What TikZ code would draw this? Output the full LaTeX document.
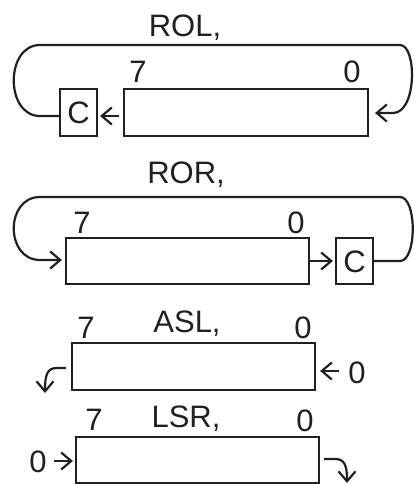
\documentclass[tikz,border=0pt]{standalone}
\usepackage{fontspec}
\setmainfont{Liberation Sans}
\usetikzlibrary{arrows.meta}
\definecolor{ink}{RGB}{35,31,32}
\begin{document}
\begin{tikzpicture}[x=1pt,y=-1pt,
  line width=2.2pt,
  reg/.style={draw=ink, line width=2.2pt, inner sep=0pt, minimum height=47pt},
  lbl/.style={anchor=base, inner sep=0pt, text=ink, font=\fontsize{31}{36}\selectfont},
  arr/.style={draw=ink, line width=2.2pt, -{Straight Barb[length=10pt,width=17pt]}}]
\useasboundingbox (0,0) rectangle (414,484);
% ---------- ROL ----------
\node[lbl] (rolT) at (185,37) {ROL,};
\node[reg, minimum width=37pt] (rolC) at (78.5,112.5) {};
\node[lbl] (rolCt) at (78.5,123.5) {C};
\node[reg, minimum width=244pt] (rolR) at (246,112.5) {};
\node[lbl] (rol7) at (138,83) {7};
\node[lbl] (rol0) at (352,83) {0};
\draw[arr, shorten <=4pt, shorten >=2pt] (rolR.west |- 0,116) -- (rolC.east |- 0,116);
\draw[arr, shorten >=6pt] (rolC.west |- 0,116) -- (40,116) .. controls (5,116) and (5,45) .. (40,45)
  -- (400,45) .. controls (417,45) and (417,113) .. (393,113) -- (rolR.east |- 0,113);
% ---------- ROR ----------
\node[lbl] (rorT) at (186,183) {ROR,};
\node[reg, minimum width=243pt, minimum height=46pt] (rorR) at (187.5,261) {};
\node[reg, minimum width=37pt, minimum height=46pt] (rorC) at (354.5,261) {};
\node[lbl] (rorCt) at (354.5,272) {C};
\node[lbl] (ror7) at (82,233) {7};
\node[lbl] (ror0) at (296,233) {0};
\draw[arr, shorten >=2pt] (rorR.east) -- (rorC.west);
\draw[arr, shorten >=3pt] (rorC.east) -- (400,261) .. controls (417,261) and (417,197) .. (400,197)
  -- (40,197) .. controls (5,197) and (5,260) .. (40,260) -- (rorR.west |- 0,260);
% ---------- ASL ----------
\node[lbl] (aslT) at (187,332) {ASL,};
\node[reg, minimum width=243pt] (aslR) at (193.5,366.5) {};
\node[lbl] (asl7) at (86,338) {7};
\node[lbl] (asl0) at (303,338) {0};
\node[lbl] (aslIn) at (357,383) {0};
\draw[arr, shorten <=8pt, shorten >=4pt] (aslIn.west |- 0,371) -- (aslR.east |- 0,371);
\draw[arr, shorten <=5pt] (aslR.west |- 0,368) -- (57,368) .. controls (47,368) and (45,375) .. (45,393);
% ---------- LSR ----------
\node[lbl] (lsrT) at (186,427) {LSR,};
\node[reg, minimum width=243pt, minimum height=46pt] (lsrR) at (197.5,460) {};
\node[lbl] (lsr7) at (94,430) {7};
\node[lbl] (lsr0) at (305,431) {0};
\node[lbl] (lsrIn) at (38,472) {0};
\draw[arr, shorten <=6pt, shorten >=2pt] (lsrIn.east |- 0,461) -- (lsrR.west |- 0,461);
\draw[arr, shorten <=4pt] (lsrR.east |- 0,459) -- (335,459) .. controls (345,459) and (347,466) .. (347,483);
\end{tikzpicture}
\end{document}
